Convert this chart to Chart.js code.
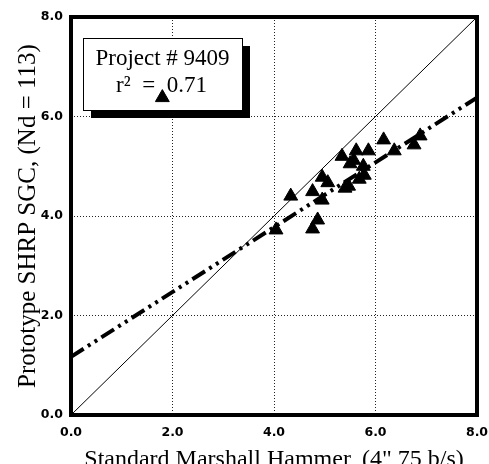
<!DOCTYPE html>
<html>
<head>
<meta charset="utf-8">
<script src="https://cdn.jsdelivr.net/npm/chart.js@4"></script>
<style>
  html, body { margin: 0; padding: 0; background: #fff; }
  #wrap { width: 489px; height: 464px; position: relative; }
</style>
</head>
<body>
<div id="wrap"><canvas id="c" width="489" height="464"></canvas></div>
<script>
// Data
const marshallX = [4.33, 4.04, 4.76, 4.86, 4.76, 4.95, 4.95, 5.06, 5.34, 5.40, 5.47, 5.50, 5.57, 5.62, 5.86, 5.68, 5.78, 5.76, 6.16, 6.37, 6.76, 6.88, 1.80];
const sgcY      = [4.40, 3.72, 3.74, 3.92, 4.49, 4.32, 4.78, 4.67, 5.20, 4.56, 4.60, 5.05, 5.12, 5.31, 5.31, 4.74, 4.82, 5.00, 5.53, 5.31, 5.43, 5.61, 6.38];
const equalityX = [0, 8];
const equalityY = [0, 8];
const fitX = [0, 8];
const fitY = [1.17, 6.38];
const tickValues = [0, 2, 4, 6, 8];
const xTitle = 'Standard Marshall Hammer, (4" 75 b/s)';
const yTitle = 'Prototype SHRP SGC, (Nd = 113)';
const boxLines = ['Project # 9409', 'r\u00B2  =  0.71'];

const pts = (xs, ys) => xs.map((x, i) => ({ x: x, y: ys[i] }));

const framePlugin = {
  id: 'frame',
  beforeDatasetsDraw(chart) {
    const { ctx, chartArea: a } = chart;
    // annotation box with drop shadow
    const bx = a.left + 12, by = a.top + 21, bw = 159, bh = 72, sh = 8;
    ctx.save();
    ctx.fillStyle = '#000';
    ctx.fillRect(bx + sh, by + sh, bw, bh);
    ctx.fillStyle = '#fff';
    ctx.fillRect(bx, by, bw, bh);
    ctx.strokeStyle = '#000';
    ctx.lineWidth = 1;
    ctx.strokeRect(bx + 0.5, by + 0.5, bw, bh);
    ctx.fillStyle = '#000';
    ctx.font = '23px "Liberation Serif", "Times New Roman", serif';
    ctx.textAlign = 'center';
    ctx.textBaseline = 'alphabetic';
    ctx.fillText(boxLines[0], bx + bw / 2, by + 27);
    ctx.fillText(boxLines[1], bx + bw / 2 - 1, by + 54);
    ctx.restore();
  },
  afterDraw(chart) {
    const { ctx, chartArea: a } = chart;
    ctx.save();
    ctx.strokeStyle = '#000';
    ctx.lineWidth = 4;
    ctx.strokeRect(a.left, a.top, a.right - a.left, a.bottom - a.top);
    ctx.restore();
  }
};

new Chart(document.getElementById('c'), {
  type: 'scatter',
  data: {
    datasets: [
      {
        label: 'Equality',
        data: pts(equalityX, equalityY),
        showLine: true,
        borderColor: '#000',
        borderWidth: 1,
        pointRadius: 0,
        fill: false
      },
      {
        label: 'Fit',
        data: pts(fitX, fitY),
        showLine: true,
        borderColor: '#000',
        borderWidth: 4,
        borderDash: [15, 5, 3, 5, 3, 5],
        pointRadius: 0,
        fill: false
      },
      {
        label: 'Data',
        data: pts(marshallX, sgcY),
        pointStyle: 'triangle',
        pointRadius: 8,
        backgroundColor: '#000',
        borderColor: '#000',
        borderWidth: 1
      }
    ]
  },
  options: {
    responsive: false,
    animation: false,
    layout: { padding: { top: 17, right: 12, left: 0, bottom: 0 } },
    plugins: { legend: { display: false }, tooltip: { enabled: false } },
    scales: {
      x: {
        type: 'linear',
        min: 0, max: 8,
        afterBuildTicks(s) { s.ticks = tickValues.map(v => ({ value: v })); },
        afterFit(s) { s.height = 49; s.paddingLeft = 0; s.paddingRight = 0; },
        ticks: {
          color: '#000',
          padding: 10,
          font: { family: '"DejaVu Sans", sans-serif', weight: 'bold', size: 12.5 },
          callback: v => Number(v).toFixed(1),
          maxRotation: 0
        },
        grid: { color: '#222', lineWidth: 1, drawTicks: false, tickLength: 0 },
        border: { display: false, dash: [1, 2] },
        title: {
          display: true,
          text: xTitle,
          color: '#000',
          font: { family: '"Liberation Serif", "Times New Roman", serif', size: 24, lineHeight: 1 },
          padding: { top: 0, bottom: -8 }
        }
      },
      y: {
        type: 'linear',
        min: 0, max: 8,
        afterBuildTicks(s) { s.ticks = tickValues.map(v => ({ value: v })); },
        afterFit(s) { s.width = 71; s.paddingTop = 0; s.paddingBottom = 0; },
        ticks: {
          color: '#000',
          padding: 8,
          font: { family: '"DejaVu Sans", sans-serif', weight: 'bold', size: 12.5 },
          callback: v => Number(v).toFixed(1)
        },
        grid: { color: '#222', lineWidth: 1, drawTicks: false, tickLength: 0 },
        border: { display: false, dash: [1, 2] },
        title: {
          display: true,
          text: yTitle,
          color: '#000',
          font: { family: '"Liberation Serif", "Times New Roman", serif', size: 25, lineHeight: 1 },
          padding: { top: 15.5, bottom: 0 }
        }
      }
    }
  },
  plugins: [framePlugin]
});
</script>
</body>
</html>
